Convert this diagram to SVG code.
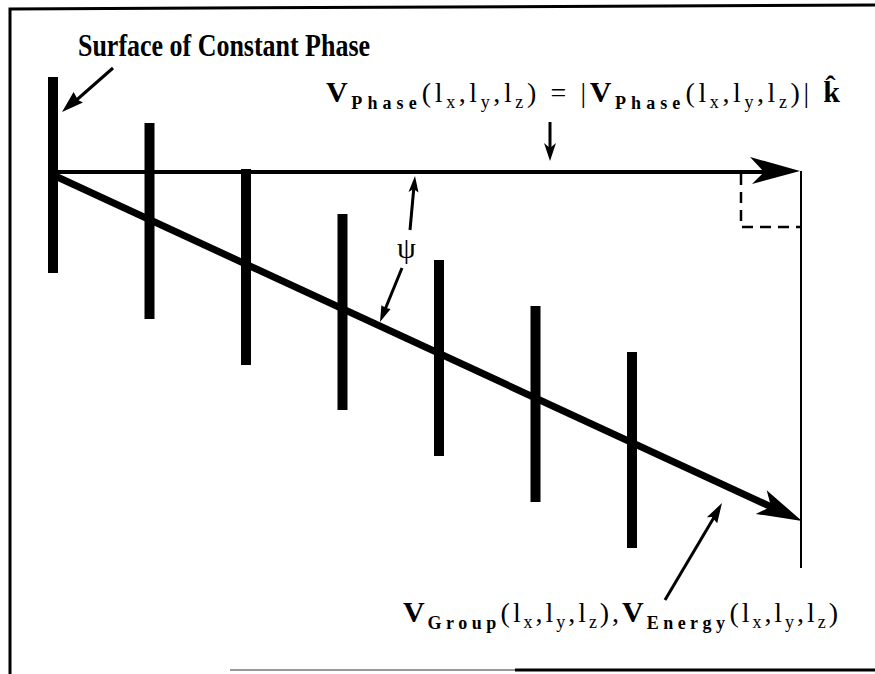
<svg xmlns="http://www.w3.org/2000/svg" width="875" height="674" viewBox="0 0 875 674">
<defs>
<style>
.frame{stroke:#000;stroke-width:3;fill:none}
.bar{stroke:#000;stroke-width:10;fill:none}
.thin{stroke:#000;stroke-width:2;fill:none}
.ptr{stroke:#000;stroke-width:3;fill:none}
.head{fill:#000;stroke:none}
.dash{stroke:#000;stroke-width:2.5;fill:none;stroke-dasharray:11 7}
text{font-family:"Liberation Serif","Times New Roman",serif;fill:#000}
.title{font-weight:bold;font-size:32px}
.lab{font-size:28px}
.b{font-weight:bold;font-size:30px}
.sb{font-weight:bold;font-size:18px;letter-spacing:1.5px}
.s{font-size:18px}
.psi{font-size:30px}
</style>
</defs>
<rect width="875" height="674" fill="#fff"/>
<g id="frame">
<path class="frame" d="M10,674 V9 L875,5"/>
<line x1="230" y1="670" x2="515" y2="670" stroke="#999" stroke-width="2"/>
<line class="frame" x1="515" y1="670" x2="875" y2="670"/>
</g>
<g id="surfaces">
<line class="bar" x1="53" y1="77" x2="53" y2="273"/>
<line class="bar" x1="149.5" y1="123" x2="149.5" y2="319"/>
<line class="bar" x1="246" y1="169" x2="246" y2="365"/>
<line class="bar" x1="342.5" y1="214" x2="342.5" y2="410"/>
<line class="bar" x1="439" y1="260" x2="439" y2="456"/>
<line class="bar" x1="535.5" y1="306" x2="535.5" y2="502"/>
<line class="bar" x1="632" y1="352" x2="632" y2="548"/>
</g>
<g id="connectors">
<line x1="53" y1="172" x2="770" y2="172" stroke="#000" stroke-width="4"/>
<polygon class="head" points="800,171 750,157 764,172 752,184"/>
<line x1="53" y1="175" x2="780" y2="511" stroke="#000" stroke-width="7"/>
<polygon class="head" points="802,521 766.7,490.3 771.1,506.7 755.7,513.9"/>
<line class="thin" x1="801" y1="171" x2="801" y2="568"/>
<path class="dash" d="M741,174 V227 H801"/>
<line class="ptr" x1="113" y1="68" x2="72" y2="104"/>
<polygon class="head" points="62,112 73.6,92.1 78,100 83,102.5"/>
<line class="ptr" x1="410" y1="230" x2="414" y2="186"/>
<polygon class="head" points="415,176 408.5,192 413.5,189 418.5,192.5"/>
<line class="ptr" x1="402" y1="268" x2="384" y2="312"/>
<polygon class="head" points="380,322 381.4,305.3 386,308 390.6,309.1"/>
<line class="ptr" x1="550" y1="122" x2="550" y2="150"/>
<polygon class="head" points="550,161 544,143 550,148 556,143"/>
<line class="ptr" x1="665" y1="600" x2="716" y2="514"/>
<polygon class="head" points="722,503 706.8,517.3 712,517 717.2,523.3"/>
</g>
<g id="label-surface">
<text class="title" x="78" y="56" textLength="292" lengthAdjust="spacingAndGlyphs">Surface of Constant Phase</text>
</g>
<g id="label-phase">
<text class="lab" x="326" y="102" textLength="514" lengthAdjust="spacing"><tspan class="b">V</tspan><tspan class="sb" dy="7">Phase</tspan><tspan dy="-7">(l</tspan><tspan class="s" dy="6">x</tspan><tspan dy="-6">,l</tspan><tspan class="s" dy="6">y</tspan><tspan dy="-6">,l</tspan><tspan class="s" dy="6">z</tspan><tspan dy="-6">) = |</tspan><tspan class="b">V</tspan><tspan class="sb" dy="7">Phase</tspan><tspan dy="-7">(l</tspan><tspan class="s" dy="6">x</tspan><tspan dy="-6">,l</tspan><tspan class="s" dy="6">y</tspan><tspan dy="-6">,l</tspan><tspan class="s" dy="6">z</tspan><tspan dy="-6">)| </tspan><tspan class="b">k̂</tspan></text>
</g>
<g id="label-psi">
<text class="psi" x="397" y="258">ψ</text>
</g>
<g id="label-group">
<text class="lab" x="403" y="622" textLength="435" lengthAdjust="spacing"><tspan class="b">V</tspan><tspan class="sb" dy="7">Group</tspan><tspan dy="-7">(l</tspan><tspan class="s" dy="6">x</tspan><tspan dy="-6">,l</tspan><tspan class="s" dy="6">y</tspan><tspan dy="-6">,l</tspan><tspan class="s" dy="6">z</tspan><tspan dy="-6">),</tspan><tspan class="b">V</tspan><tspan class="sb" dy="7">Energy</tspan><tspan dy="-7">(l</tspan><tspan class="s" dy="6">x</tspan><tspan dy="-6">,l</tspan><tspan class="s" dy="6">y</tspan><tspan dy="-6">,l</tspan><tspan class="s" dy="6">z</tspan><tspan dy="-6">)</tspan></text>
</g>
</svg>
